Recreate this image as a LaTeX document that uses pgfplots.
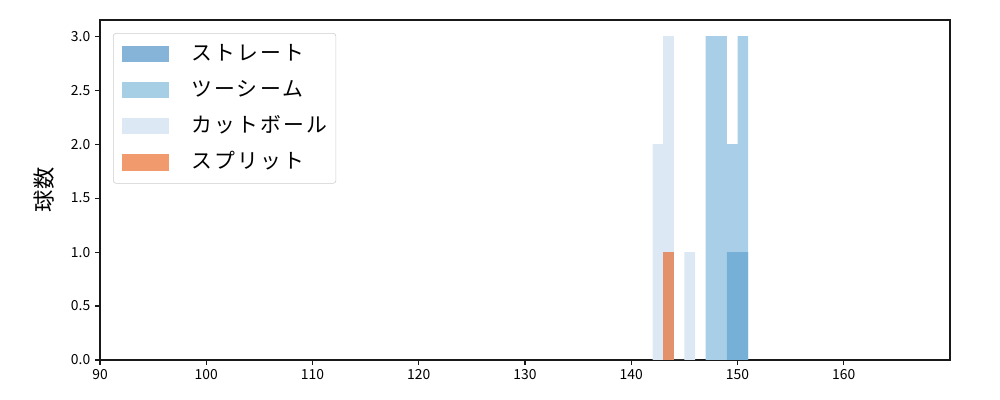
\documentclass[border=0pt]{standalone}
\usepackage{fontspec}
\setmainfont{Noto Sans CJK JP}
\newfontfamily\legfont[LetterSpace=11]{Noto Sans CJK JP}
\usepackage{pgfplots}
\pgfplotsset{compat=1.18}

% colours: bars, then legend swatches
\definecolor{barST}{RGB}{118,176,214}
\definecolor{barTS}{RGB}{168,207,231}
\definecolor{barCT}{RGB}{220,232,244}
\definecolor{barSP}{RGB}{227,145,107}
\definecolor{legST}{RGB}{133,180,216}
\definecolor{legTS}{RGB}{166,206,228}
\definecolor{legCT}{RGB}{220,232,243}
\definecolor{legSP}{RGB}{240,154,110}

\begin{document}
\begin{tikzpicture}
\begin{axis}[
    scale only axis=true,
    width=612pt, height=244.8pt,
    xmin=90, xmax=170,
    ymin=0, ymax=3.15,
    axis line style={line width=0.8pt, black!90},
    xtick={90,100,...,160},
    ytick={0,0.5,...,3.0},
    yticklabel style={/pgf/number format/.cd, fixed, fixed zerofill, precision=1},
    /pgf/number format/assume math mode=true,
    tick label style={font=\fontsize{10}{12}\selectfont},
    tick align=outside,
    major tick length=3.5pt,
    every tick/.style={black!90, line width=0.8pt},
    xtick pos=bottom, ytick pos=left,
    ylabel={球数},
    ylabel style={font=\fontsize{16}{18}\selectfont, yshift=5pt},
    legend cell align=left,
    legend style={
        at={(rel axis cs:0,1)}, anchor=north west,
        xshift=9.4pt, yshift=-9.4pt,
        draw=black!20, rounded corners=2pt,
        font=\legfont\fontsize{15}{18}\selectfont,
        inner xsep=6pt, inner ysep=8.5pt,
        row sep=13pt, column sep=16pt,
        nodes={text height=11pt, text depth=2pt, inner sep=0pt},
    },
    legend image code/.code={\fill[#1, sharp corners] (0pt,-5.8pt) rectangle (34pt,5.8pt);},
]
\addlegendimage{fill=legST, draw=none}
\addlegendentry{ストレート}
\addlegendimage{fill=legTS, draw=none}
\addlegendentry{ツーシーム}
\addlegendimage{fill=legCT, draw=none}
\addlegendentry{カットボール}
\addlegendimage{fill=legSP, draw=none}
\addlegendentry{スプリット}

% ツーシーム
\addplot[ybar interval, fill=barTS, draw=none, forget plot]
    coordinates {(147,3)(148,3)(149,2)(150,3)(151,0)};
% ストレート
\addplot[ybar interval, fill=barST, draw=none, forget plot]
    coordinates {(149,1)(150,1)(151,0)};
% カットボール
\addplot[ybar interval, fill=barCT, draw=none, forget plot]
    coordinates {(142,2)(143,3)(144,0)(145,1)(146,0)};
% スプリット
\addplot[ybar interval, fill=barSP, draw=none, forget plot]
    coordinates {(143,1)(144,0)};
\end{axis}
% page frame of the original figure (10in x 4in)
\path (current axis.south west) ++(-72pt,-28.8pt) rectangle ++(720pt,288pt);
\end{tikzpicture}
\end{document}
